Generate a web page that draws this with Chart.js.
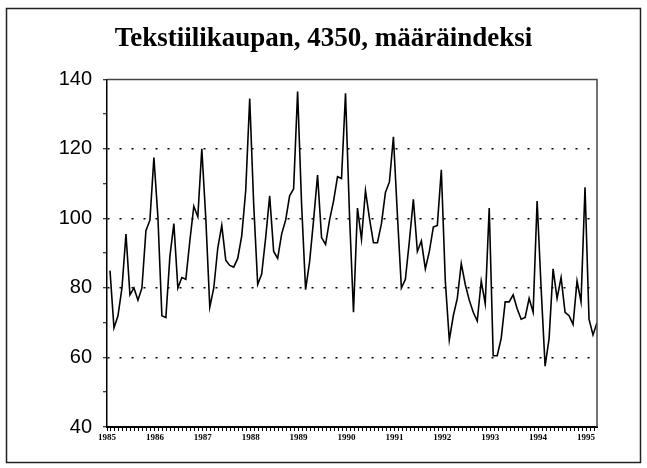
<!DOCTYPE html>
<html>
<head>
<meta charset="utf-8">
<script src="https://cdn.jsdelivr.net/npm/chart.js@4"></script>
<style>
    body { margin: 0; background: #fff; }
    #wrap { width: 647px; height: 468px; }
</style>
</head>
<body>
<div id="wrap"><canvas id="indexChart" width="647" height="468"></canvas></div>
<script>
// monthly volume index, Jan 1985 - Mar 1995
let yearLabels = ['1985', '1986', '1987', '1988', '1989', '1990', '1991', '1992', '1993', '1994', '1995']

let indexValues = [
    85, 68.5, 72, 80, 95.5, 78, 80, 76.5, 80, 96.5, 99.5, 117.5,
    100.5, 72, 71.5, 89, 98.5, 80, 83, 82.5, 93.5, 103.5, 100.5, 120,
    100, 74.5, 80, 91.5, 98, 88, 86.5, 86, 88.5, 95, 108, 134.5,
    104, 81, 84, 94.5, 106.5, 90.5, 88.5, 95.5, 99.5, 106.5, 108.5, 136.5,
    104, 79.5, 87.5, 99.5, 112.5, 94.5, 92.5, 99.5, 105, 112, 111.5, 136,
    101, 73, 103, 94, 108, 100, 93, 93, 98.5, 107.5, 110.5, 123.5,
    101, 80, 82.5, 93.5, 105.5, 90.5, 93.5, 85.5, 90.5, 97.5, 98, 114,
    82, 65, 72, 77, 87, 81, 76.5, 73, 70.5, 82, 75.5, 103,
    60.5, 60.5, 65.5, 76, 76, 78, 74, 71, 71.5, 77, 73, 105,
    80, 57.5, 65.5, 85.5, 77, 83, 73, 72, 69.5, 82, 76, 109,
    71, 66.5, 70
]

let yMin = 40
let yMax = 140

let points = indexValues.map((v, i) => ({ x: i, y: v }))

// outer frame + plot box top/right edges
let framePlugin = {
    id: "frame",
    afterDraw(chart) {
        let c = chart.ctx
        let a = chart.chartArea
        c.save()
        c.strokeStyle = "#222"
        c.lineWidth = 1.5
        c.strokeRect(6.5, 8.5, 634, 454)
        c.strokeStyle = "#444"
        c.lineWidth = 1.5
        c.beginPath()
        c.moveTo(a.left, a.top)
        c.lineTo(a.right, a.top)
        c.lineTo(a.right, a.bottom)
        c.stroke()
        c.restore()
    }
}

let ctx = document.querySelector("#indexChart").getContext("2d")

let indexChart = new Chart(ctx, {
    type: "line",
    data: {
        datasets: [
            {
                label: "määräindeksi",
                data: points,
                borderColor: "#000",
                borderWidth: 1.6,
                pointRadius: 0,
                fill: false,
                tension: 0
            }
        ]
    },
    options: {
        responsive: false,
        animation: false,
        layout: {
            padding: { left: 50, right: 50, top: 0, bottom: 11 }
        },
        plugins: {
            legend: { display: false },
            tooltip: { enabled: false },
            title: {
                display: true,
                text: "Tekstiilikaupan, 4350, määräindeksi",
                color: "#000",
                font: { family: "'Liberation Serif', serif", size: 27, weight: "bold" },
                padding: { top: 23, bottom: 24 }
            }
        },
        scales: {
            x: {
                type: "linear",
                min: -0.75,
                max: indexValues.length - 1,
                afterBuildTicks: (scale) => {
                    let t = []
                    for (let m = 0; m < indexValues.length; m++) {
                        t.push({ value: m - 0.75 })
                    }
                    scale.ticks = t
                },
                afterFit: (scale) => { scale.height = 30 },
                ticks: {
                    autoSkip: false,
                    maxRotation: 0,
                    padding: 1,
                    color: "#000",
                    font: { family: "'Liberation Serif', serif", size: 9, weight: "bold" },
                    callback: (value) => {
                        let m = Math.round(value + 0.75)
                        return m % 12 === 0 ? yearLabels[m / 12] : ""
                    }
                },
                grid: {
                    drawOnChartArea: false,
                    tickLength: 4,
                    tickColor: "#000",
                    tickWidth: 1
                },
                border: { color: "#000", width: 2 }
            },
            y: {
                min: yMin,
                max: yMax,
                afterFit: (scale) => { scale.width = 57 },
                ticks: {
                    stepSize: 10,
                    padding: 11,
                    color: "#000",
                    font: { family: "'Liberation Sans', Arial, sans-serif", size: 20 },
                    callback: (value) => value % 20 === 0 ? value : ""
                },
                grid: {
                    color: (c) => {
                        let v = c.tick ? c.tick.value : 0
                        return (v % 20 === 0 && v > yMin && v < yMax) ? "#000" : "rgba(0,0,0,0)"
                    },
                    lineWidth: 1.5,
                    tickLength: 4,
                    tickColor: "#000",
                    tickWidth: 1
                },
                border: { color: "#000", width: 1.5, dash: [2, 10] }
            }
        }
    },
    plugins: [framePlugin]
})
</script>
</body>
</html>
